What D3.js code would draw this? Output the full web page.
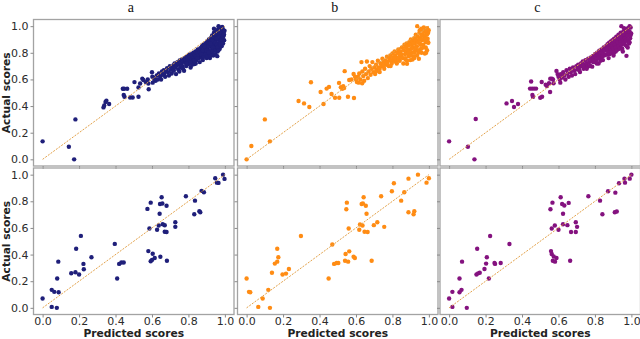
<!DOCTYPE html>
<html><head><meta charset="utf-8">
<script src="https://cdn.jsdelivr.net/npm/d3@7"></script>
<style>html,body{margin:0;padding:0;background:#fff;}svg{display:block;}</style>
</head><body>
<svg id="chart" width="640" height="339"></svg>
<script>
// ---------- data ----------
const panelTitles = ["a", "b", "c"];
const rowLabel = "Actual scores";
const colLabel = "Predicted scores";
const tickValues = [0.0, 0.2, 0.4, 0.6, 0.8, 1.0];
const seriesColors = ["#1f1f7a", "#ff8c14", "#84127f"];
const refLine = [[0, 0], [1, 1]];

// top row (dense)
const topA = [[0.0,0.135],[0.144,0.095],[0.173,0.0],[0.18,0.30],[0.334,0.39],[0.338,0.405],[0.345,0.43],[0.35,0.44],[0.365,0.415],[0.44,0.53],[0.447,0.53],[0.464,0.53],[0.445,0.484],[0.449,0.47],[0.48,0.464],[0.494,0.464],[0.504,0.58],[0.526,0.47],[0.526,0.54],[0.535,0.57],[0.547,0.606],[0.553,0.596],[0.566,0.58],[0.577,0.6],[0.58,0.57],[0.582,0.526],[0.6,0.654],[0.604,0.576],[0.611,0.604],
[0.612,0.612],[0.62,0.59],[0.626,0.63],[0.632,0.6],[0.638,0.645],[0.645,0.62],[0.65,0.6],[0.655,0.66],[0.66,0.635],[0.602,0.62],
[0.665,0.67],[0.668,0.64],[0.672,0.62],[0.678,0.66],[0.683,0.685],[0.688,0.655],[0.693,0.63],[0.698,0.7],[0.703,0.672],[0.708,0.645],[0.712,0.69],[0.717,0.705],[0.72,0.665],
[0.724,0.72],[0.728,0.69],[0.732,0.64],[0.736,0.705],[0.74,0.73],[0.744,0.675],[0.748,0.712],[0.752,0.742],[0.756,0.69],[0.76,0.72],[0.764,0.75],[0.768,0.70],[0.772,0.735],[0.776,0.665],[0.779,0.76],
[0.782,0.725],[0.785,0.745],[0.788,0.7],[0.791,0.77],[0.794,0.735],[0.797,0.755],[0.8,0.715],[0.803,0.785],[0.806,0.745],[0.809,0.765],[0.812,0.69],[0.815,0.79],[0.818,0.755],[0.821,0.775],[0.824,0.735],[0.827,0.8],[0.83,0.765],[0.833,0.715],[0.836,0.785],[0.839,0.81],
[0.842,0.77],[0.845,0.745],[0.848,0.8],[0.851,0.825],[0.854,0.78],[0.857,0.76],[0.86,0.81],[0.862,0.73],[0.865,0.835],[0.868,0.795],[0.871,0.77],[0.874,0.85],[0.876,0.815],[0.879,0.745],[0.882,0.86],[0.885,0.8],[0.888,0.83],[0.89,0.775],[0.893,0.87],[0.896,0.845],[0.899,0.81],[0.9,0.76],
[0.902,0.885],[0.905,0.83],[0.907,0.79],[0.909,0.86],[0.912,0.9],[0.914,0.815],[0.916,0.87],[0.918,0.76],[0.92,0.845],[0.922,0.91],[0.924,0.885],[0.926,0.8],[0.928,0.86],[0.93,0.93],[0.932,0.835],[0.934,0.9],[0.936,0.78],[0.938,0.875],[0.94,0.95],[0.942,0.82],[0.944,0.915],[0.946,0.855],[0.948,0.79],[0.95,0.895],
[0.952,0.96],[0.954,0.84],[0.956,0.93],[0.958,0.87],[0.96,0.81],[0.962,0.975],[0.964,0.9],[0.966,0.945],[0.968,0.86],[0.97,0.99],[0.972,0.83],[0.974,0.92],[0.976,0.955],[0.978,0.885],[0.98,0.97],[0.982,0.85],[0.984,0.94],[0.986,0.905],[0.988,0.98],[0.99,0.87],[0.992,0.955],[0.994,0.93],[0.996,0.895],[0.998,0.965],[0.985,0.995],[0.965,1.0],[0.94,0.98],[0.958,0.775],
[0.87,0.79],[0.875,0.76],[0.88,0.82],[0.885,0.77],[0.89,0.845],[0.895,0.79],[0.9,0.82],[0.905,0.775],[0.91,0.85],[0.915,0.795],[0.92,0.78],[0.925,0.86],[0.93,0.81],[0.935,0.84],[0.94,0.79],[0.945,0.88],[0.95,0.82],[0.955,0.86],[0.96,0.84],[0.965,0.82],[0.97,0.88],[0.975,0.86],[0.98,0.9],[0.985,0.87],[0.99,0.92],[0.995,0.94],[0.97,0.95],[0.955,0.91],[0.945,0.94],[0.93,0.89],[0.92,0.87],[0.91,0.8],[0.85,0.76],[0.84,0.72],[0.83,0.74],[0.82,0.71],[0.81,0.73],[0.79,0.72],[0.77,0.68],[0.75,0.66]];

const topB = [[0.0,0.0],[0.026,0.10],[0.10,0.30],[0.128,0.135],[0.285,0.438],[0.315,0.42],[0.344,0.393],[0.353,0.579],[0.406,0.506],[0.422,0.416],[0.439,0.531],[0.452,0.544],[0.466,0.491],[0.485,0.463],[0.507,0.574],[0.508,0.463],[0.517,0.541],[0.525,0.53],[0.535,0.535],[0.53,0.55],[0.538,0.662],[0.556,0.47],[0.563,0.596],[0.589,0.461],[0.587,0.641],[0.575,0.6],[0.595,0.62],[0.615,0.576],[0.634,0.571],
[0.6,0.6],[0.605,0.58],[0.612,0.62],[0.618,0.645],[0.624,0.6],[0.63,0.73],[0.635,0.66],[0.64,0.625],[0.645,0.59],[0.65,0.68],[0.655,0.64],[0.66,0.735],[0.665,0.61],[0.67,0.66],[0.675,0.7],[0.68,0.635],[0.685,0.68],[0.69,0.73],[0.695,0.655],[0.7,0.69],
[0.705,0.64],[0.71,0.71],[0.715,0.675],[0.72,0.74],[0.725,0.69],[0.73,0.655],[0.735,0.72],[0.74,0.7],[0.745,0.755],[0.75,0.725],[0.755,0.68],[0.76,0.74],[0.765,0.71],[0.77,0.77],[0.775,0.735],[0.78,0.7],
[0.784,0.755],[0.788,0.78],[0.792,0.745],[0.796,0.72],[0.8,0.795],[0.804,0.765],[0.808,0.74],[0.812,0.81],[0.816,0.78],[0.82,0.75],[0.824,0.72],[0.828,0.8],[0.832,0.825],[0.836,0.765],[0.84,0.74],[0.844,0.81],[0.848,0.79],[0.852,0.84],[0.856,0.76],[0.86,0.72],
[0.863,0.82],[0.866,0.86],[0.869,0.79],[0.872,0.75],[0.875,0.84],[0.878,0.87],[0.88,0.717],[0.883,0.8],[0.886,0.855],[0.889,0.775],[0.892,0.88],[0.895,0.825],[0.898,0.745],[0.901,0.9],[0.904,0.86],[0.907,0.8],[0.91,0.885],[0.913,0.84],[0.916,0.77],[0.919,0.91],
[0.922,0.87],[0.925,0.82],[0.928,0.935],[0.931,0.89],[0.934,0.85],[0.936,1.0],[0.939,0.92],[0.942,0.8],[0.945,0.755],[0.948,0.95],[0.951,0.87],[0.954,0.91],[0.957,0.83],[0.96,0.975],[0.963,0.895],[0.966,0.94],[0.969,0.86],[0.972,0.99],[0.975,0.92],[0.978,0.795],[0.981,0.96],[0.984,0.88],[0.987,0.935],[0.99,0.985],[0.993,0.905],[0.996,0.95],[0.999,0.97],[0.997,0.875],[0.983,0.84],[0.958,0.98],[0.99,0.82],
[0.87,0.76],[0.875,0.8],[0.88,0.74],[0.885,0.82],[0.89,0.8],[0.895,0.86],[0.9,0.78],[0.905,0.83],[0.91,0.75],[0.915,0.87],[0.92,0.8],[0.925,0.9],[0.93,0.84],[0.935,0.78],[0.94,0.88],[0.945,0.82],[0.95,0.9],[0.955,0.86],[0.96,0.8],[0.965,0.9],[0.97,0.84],[0.975,0.96],[0.98,0.9],[0.985,0.8],[0.99,0.94],[0.995,0.88],[0.96,0.93],[0.95,0.97],[0.985,0.97],[0.92,0.76],[0.85,0.77],[0.84,0.79],[0.83,0.76],[0.82,0.73],[0.81,0.76],[0.79,0.7],[0.77,0.72],[0.75,0.7],[0.73,0.68],[0.71,0.66]];

const topC = [[0.0,0.135],[0.103,0.095],[0.139,0.0],[0.146,0.303],[0.315,0.42],[0.345,0.438],[0.356,0.393],[0.378,0.416],[0.444,0.531],[0.45,0.584],[0.455,0.531],[0.466,0.531],[0.477,0.531],[0.457,0.484],[0.46,0.469],[0.5,0.463],[0.51,0.47],[0.508,0.581],[0.537,0.551],[0.548,0.571],[0.555,0.606],[0.564,0.606],[0.57,0.6],[0.573,0.571],[0.554,0.506],[0.589,0.664],[0.595,0.64],[0.61,0.576],[0.53,0.56],
[0.6,0.62],[0.607,0.6],[0.613,0.64],[0.62,0.615],[0.626,0.655],[0.632,0.63],[0.638,0.6],[0.644,0.67],[0.65,0.645],[0.656,0.62],[0.662,0.68],[0.668,0.655],[0.674,0.63],[0.68,0.69],[0.686,0.665],[0.692,0.64],[0.698,0.7],
[0.703,0.675],[0.708,0.71],[0.713,0.69],[0.718,0.655],[0.723,0.72],[0.728,0.7],[0.733,0.735],[0.738,0.68],[0.743,0.71],[0.744,0.692],[0.748,0.745],[0.753,0.72],[0.758,0.695],[0.763,0.755],[0.768,0.73],[0.773,0.705],[0.778,0.765],
[0.782,0.74],[0.785,0.696],[0.788,0.775],[0.792,0.755],[0.796,0.73],[0.8,0.79],[0.804,0.77],[0.808,0.745],[0.812,0.8],[0.816,0.78],[0.82,0.72],[0.824,0.815],[0.828,0.79],[0.832,0.765],[0.836,0.825],[0.84,0.8],[0.844,0.745],[0.848,0.84],[0.852,0.815],[0.856,0.785],[0.86,0.85],
[0.863,0.786],[0.866,0.83],[0.869,0.865],[0.872,0.81],[0.875,0.76],[0.878,0.875],[0.881,0.845],[0.884,0.8],[0.887,0.885],[0.89,0.86],[0.893,0.82],[0.896,0.895],[0.899,0.87],[0.902,0.78],[0.905,0.905],[0.908,0.85],[0.911,0.88],[0.914,0.81],[0.917,0.92],[0.92,0.865],
[0.923,0.895],[0.926,0.835],[0.929,0.935],[0.932,0.88],[0.935,0.91],[0.938,0.85],[0.941,0.95],[0.944,0.895],[0.945,1.0],[0.947,0.87],[0.95,0.925],[0.953,0.81],[0.956,0.96],[0.959,0.9],[0.962,0.94],[0.965,0.86],[0.968,0.975],[0.971,0.92],[0.973,0.777],[0.975,0.955],[0.978,0.89],[0.981,0.985],[0.984,0.935],[0.987,0.87],[0.99,0.96],[0.993,0.91],[0.996,0.99],[0.999,0.945],[0.98,0.84],[0.96,0.985],
[0.87,0.83],[0.875,0.8],[0.88,0.79],[0.885,0.83],[0.89,0.8],[0.895,0.85],[0.9,0.83],[0.905,0.8],[0.91,0.86],[0.915,0.84],[0.92,0.82],[0.925,0.88],[0.93,0.85],[0.935,0.83],[0.94,0.88],[0.945,0.86],[0.95,0.83],[0.955,0.9],[0.96,0.88],[0.965,0.91],[0.97,0.89],[0.975,0.85],[0.98,0.93],[0.985,0.9],[0.99,0.88],[0.995,0.93],[0.97,0.96],[0.955,0.94],[0.99,1.0],[0.94,0.92],[0.85,0.78],[0.84,0.77],[0.83,0.74],[0.82,0.76],[0.81,0.72],[0.79,0.73],[0.77,0.7],[0.755,0.68],[0.735,0.7],[0.715,0.67]];

// bottom row (sparse)
const botA = [[0.0,0.07],[0.05,0.135],[0.064,0.12],[0.05,0.007],[0.078,0.0],[0.08,0.22],[0.086,0.347],[0.088,0.117],[0.157,0.26],[0.18,0.267],[0.184,0.444],[0.2,0.25],[0.21,0.54],[0.224,0.33],[0.226,0.29],[0.268,0.38],[0.396,0.48],[0.409,0.22],[0.42,0.33],[0.432,0.34],[0.445,0.34],[0.575,0.743],[0.593,0.79],[0.58,0.426],[0.586,0.596],[0.593,0.35],[0.6,0.36],[0.604,0.406],[0.615,0.374],[0.628,0.586],[0.637,0.618],[0.646,0.384],[0.642,0.706],[0.644,0.78],[0.653,0.83],[0.657,0.783],[0.659,0.628],[0.67,0.62],[0.67,0.571],[0.68,0.569],[0.68,0.766],[0.682,0.354],[0.728,0.643],[0.728,0.608],[0.786,0.838],[0.836,0.805],[0.832,0.703],[0.872,0.878],[0.885,0.868],[0.86,0.726],[0.865,0.718],[0.947,0.973],[0.956,0.94],[0.965,0.938],[0.99,1.0],[0.998,0.968]];
const botB = [[0.0,0.22],[0.013,0.12],[0.02,0.117],[0.064,0.007],[0.088,0.07],[0.119,0.135],[0.128,0.0],[0.139,0.264],[0.155,0.332],[0.168,0.347],[0.168,0.444],[0.174,0.38],[0.197,0.25],[0.216,0.257],[0.232,0.292],[0.298,0.539],[0.45,0.22],[0.47,0.476],[0.48,0.33],[0.494,0.337],[0.503,0.337],[0.54,0.354],[0.543,0.404],[0.547,0.74],[0.55,0.79],[0.557,0.347],[0.56,0.596],[0.563,0.424],[0.587,0.384],[0.594,0.374],[0.618,0.586],[0.622,0.626],[0.631,0.78],[0.638,0.783],[0.636,0.618],[0.642,0.83],[0.647,0.571],[0.654,0.766],[0.658,0.706],[0.664,0.569],[0.686,0.354],[0.698,0.621],[0.717,0.643],[0.738,0.838],[0.755,0.608],[0.797,0.875],[0.808,0.935],[0.848,0.805],[0.865,0.868],[0.888,0.718],[0.888,0.97],[0.916,0.703],[0.92,0.726],[0.94,1.0],[0.987,0.94],[1.0,0.973]];
const botC = [[0.0,0.07],[0.018,0.12],[0.018,0.007],[0.057,0.22],[0.057,0.117],[0.068,0.135],[0.071,0.347],[0.097,0.0],[0.15,0.25],[0.154,0.444],[0.159,0.259],[0.168,0.264],[0.194,0.292],[0.203,0.332],[0.207,0.38],[0.218,0.22],[0.225,0.539],[0.249,0.337],[0.252,0.33],[0.283,0.337],[0.331,0.479],[0.556,0.74],[0.567,0.79],[0.559,0.426],[0.563,0.404],[0.563,0.596],[0.569,0.354],[0.574,0.386],[0.58,0.618],[0.581,0.347],[0.589,0.374],[0.6,0.586],[0.612,0.83],[0.62,0.78],[0.625,0.706],[0.625,0.628],[0.632,0.768],[0.649,0.621],[0.656,0.788],[0.664,0.354],[0.669,0.569],[0.695,0.643],[0.695,0.569],[0.702,0.608],[0.764,0.838],[0.828,0.805],[0.841,0.703],[0.872,0.875],[0.909,0.718],[0.912,0.865],[0.92,0.723],[0.932,0.935],[0.962,0.97],[0.965,0.94],[0.991,0.97],[1.0,1.0]];

const grid = [[topA, topB, topC], [botA, botB, botC]];

// ---------- layout ----------
const svg = d3.select("#chart");
const colLeft = [33.5, 237.5, 440];
const panelW = 200.5;
const rowTop = [19.5, 168];
const panelH = 146.5;
const domain = [-0.05, 1.05];
const fmt = d3.format(".1f");

grid.forEach((row, ri) => {
  row.forEach((pts, ci) => {
    const x = d3.scaleLinear().domain(domain).range([colLeft[ci], colLeft[ci] + panelW]);
    const y = d3.scaleLinear().domain(domain).range([rowTop[ri] + panelH, rowTop[ri]]);
    const g = svg.append("g");

    g.append("rect")
      .attr("x", colLeft[ci]).attr("y", rowTop[ri])
      .attr("width", panelW).attr("height", panelH)
      .attr("fill", "none").attr("stroke", "#a3a3a3").attr("stroke-width", 1.3);

    const ya = d3.axisLeft(y).tickValues(tickValues).tickSize(3).tickPadding(2)
      .tickFormat(ci === 0 ? fmt : () => "");
    const xa = d3.axisBottom(x).tickValues(tickValues).tickSize(3).tickPadding(0)
      .tickFormat(ri === 1 ? fmt : () => "");
    const yg = g.append("g").attr("transform", `translate(${colLeft[ci]},0)`).call(ya);
    const xg = g.append("g").attr("transform", `translate(0,${rowTop[ri] + panelH})`).call(xa);
    [yg, xg].forEach(ax => {
      ax.select(".domain").remove();
      ax.selectAll(".tick line").attr("stroke", "#8a8a8a").attr("stroke-width", 1);
      ax.selectAll(".tick text").attr("fill", "#2b2b2b")
        .style("font-family", "'DejaVu Sans', sans-serif").style("font-size", "11px");
    });

    g.append("g").selectAll("circle").data(pts).join("circle")
      .attr("cx", d => x(d[0])).attr("cy", d => y(d[1]))
      .attr("r", 2.2).attr("fill", seriesColors[ci]);

    g.append("path").datum(refLine)
      .attr("d", d3.line().x(d => x(d[0])).y(d => y(d[1])))
      .attr("fill", "none").attr("stroke", "#e3a24a").attr("stroke-width", 1)
      .attr("stroke-dasharray", "2,1.3");

    if (ri === 0) {
      svg.append("text").attr("x", colLeft[ci] + panelW / 2 - 3).attr("y", 12)
        .attr("text-anchor", "middle")
        .style("font-family", "'Liberation Serif', 'Times New Roman', serif")
        .style("font-size", "14px").attr("fill", "#111").text(panelTitles[ci]);
    }
    if (ri === 1) {
      svg.append("text").attr("x", colLeft[ci] + panelW / 2).attr("y", 337)
        .attr("text-anchor", "middle")
        .style("font-family", "'DejaVu Sans', sans-serif").style("font-weight", "bold")
        .style("font-size", "10.7px").attr("fill", "#222").text(colLabel);
    }
    if (ci === 0) {
      const cy = rowTop[ri] + panelH / 2;
      svg.append("text").attr("transform", `translate(9.5,${cy}) rotate(-90)`)
        .attr("text-anchor", "middle")
        .style("font-family", "'DejaVu Sans', sans-serif").style("font-weight", "bold")
        .style("font-size", "10.7px").attr("fill", "#222").text(rowLabel);
    }
  });
});
</script>
</body></html>
